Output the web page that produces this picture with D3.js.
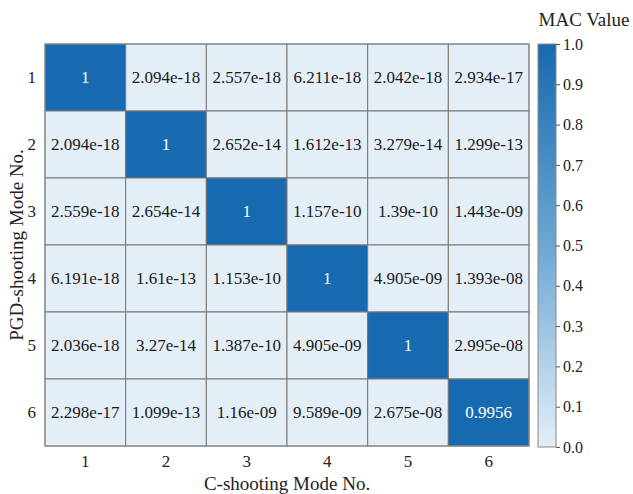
<!DOCTYPE html>
<html>
<head>
<meta charset="utf-8">
<script src="https://cdn.jsdelivr.net/npm/d3@7"></script>
<style>
  html, body { margin: 0; padding: 0; background: #fff; }
  svg, svg text { font-family: "Liberation Serif", "DejaVu Serif", serif; }
</style>
</head>
<body>
<svg id="chart" width="633" height="494"></svg>
<script>
const SERIF = "'Liberation Serif', 'DejaVu Serif', serif";

// Mode labels for both axes
const cModes = ["1", "2", "3", "4", "5", "6"];
const pgdModes = ["1", "2", "3", "4", "5", "6"];

// MAC matrix rows (PGD-shooting mode), columns (C-shooting mode), as printed
const macRow1 = ["1", "2.094e-18", "2.557e-18", "6.211e-18", "2.042e-18", "2.934e-17"];
const macRow2 = ["2.094e-18", "1", "2.652e-14", "1.612e-13", "3.279e-14", "1.299e-13"];
const macRow3 = ["2.559e-18", "2.654e-14", "1", "1.157e-10", "1.39e-10", "1.443e-09"];
const macRow4 = ["6.191e-18", "1.61e-13", "1.153e-10", "1", "4.905e-09", "1.393e-08"];
const macRow5 = ["2.036e-18", "3.27e-14", "1.387e-10", "4.905e-09", "1", "2.995e-08"];
const macRow6 = ["2.298e-17", "1.099e-13", "1.16e-09", "9.589e-09", "2.675e-08", "0.9956"];
const macRows = [macRow1, macRow2, macRow3, macRow4, macRow5, macRow6];

const colorbarTicks = [0, 0.1, 0.2, 0.3, 0.4, 0.5, 0.6, 0.7, 0.8, 0.9, 1.0];

const cells = [];
macRows.forEach((row, i) => row.forEach((label, j) => {
  cells.push({ row: pgdModes[i], col: cModes[j], label, value: +label });
}));

const svg = d3.select("#chart").attr("font-family", SERIF);
const grid = { left: 45, top: 44, right: 529, bottom: 446 };

const x = d3.scaleBand().domain(cModes).range([grid.left, grid.right]);
const y = d3.scaleBand().domain(pgdModes).range([grid.top, grid.bottom]);
const color = d3.scaleLinear()
  .domain([0, 0.5, 1])
  .range(["#e3eef7", "#6ca7d3", "#1769b0"])
  .interpolate(d3.interpolateRgb);

// Heatmap cells
svg.append("g").selectAll("rect")
  .data(cells).join("rect")
  .attr("x", d => x(d.col))
  .attr("y", d => y(d.row))
  .attr("width", x.bandwidth())
  .attr("height", y.bandwidth())
  .attr("fill", d => color(d.value))
  .attr("stroke", "#777")
  .attr("stroke-width", 1);

// Cell annotations
svg.append("g").selectAll("text")
  .data(cells).join("text")
  .attr("x", d => x(d.col) + x.bandwidth() / 2)
  .attr("y", d => y(d.row) + y.bandwidth() / 2)
  .attr("text-anchor", "middle")
  .attr("dominant-baseline", "central")
  .attr("font-family", SERIF)
  .attr("font-size", 17)
  .attr("fill", d => d.value > 0.5 ? "#fff" : "#1a1a1a")
  .text(d => d.label);

// Outer frame
svg.append("rect")
  .attr("x", grid.left).attr("y", grid.top)
  .attr("width", grid.right - grid.left).attr("height", grid.bottom - grid.top)
  .attr("fill", "none").attr("stroke", "#888").attr("stroke-width", 1);

// Axes (tick labels only)
const xAxis = svg.append("g")
  .attr("transform", `translate(0,${grid.bottom})`)
  .call(d3.axisBottom(x).tickSize(0).tickPadding(9))
  .attr("font-family", SERIF);
xAxis.select(".domain").remove();
xAxis.selectAll("text").attr("font-size", 17).attr("fill", "#222");

const yAxis = svg.append("g")
  .attr("transform", `translate(${grid.left},0)`)
  .call(d3.axisLeft(y).tickSize(0).tickPadding(9))
  .attr("font-family", SERIF);
yAxis.select(".domain").remove();
yAxis.selectAll("text").attr("font-size", 17).attr("fill", "#222");

// Axis titles
svg.append("text")
  .attr("x", (grid.left + grid.right) / 2)
  .attr("y", 490)
  .attr("text-anchor", "middle")
  .attr("font-family", SERIF)
  .attr("font-size", 19).attr("fill", "#222")
  .text("C-shooting Mode No.");

svg.append("text")
  .attr("transform", `translate(23,${(grid.top + grid.bottom) / 2}) rotate(-90)`)
  .attr("text-anchor", "middle")
  .attr("font-family", SERIF)
  .attr("font-size", 19).attr("fill", "#222")
  .text("PGD-shooting Mode No.");

// Colorbar
const cb = { x: 538, w: 18, top: 44, bottom: 447 };
const cbScale = d3.scaleLinear().domain([0, 1]).range([cb.bottom, cb.top]);
const defs = svg.append("defs");
const grad = defs.append("linearGradient")
  .attr("id", "macGrad").attr("x1", 0).attr("y1", 1).attr("x2", 0).attr("y2", 0);
d3.range(0, 1.0001, 0.1).forEach(t => {
  grad.append("stop").attr("offset", t).attr("stop-color", color(t));
});
svg.append("rect")
  .attr("x", cb.x).attr("y", cb.top)
  .attr("width", cb.w).attr("height", cb.bottom - cb.top)
  .attr("fill", "url(#macGrad)")
  .attr("stroke", "#888").attr("stroke-width", 1);

const cbAxis = svg.append("g")
  .attr("transform", `translate(${cb.x + cb.w},0)`)
  .call(d3.axisRight(cbScale).tickValues(colorbarTicks).tickFormat(d3.format(".1f")).tickSize(4).tickPadding(3))
  .attr("font-family", SERIF);
cbAxis.select(".domain").remove();
cbAxis.selectAll("line").attr("stroke", "#555");
cbAxis.selectAll("text").attr("font-size", 16).attr("fill", "#222");

svg.append("text")
  .attr("x", 584).attr("y", 26)
  .attr("text-anchor", "middle")
  .attr("font-family", SERIF)
  .attr("font-size", 19).attr("fill", "#222")
  .text("MAC Value");
</script>
</body>
</html>
